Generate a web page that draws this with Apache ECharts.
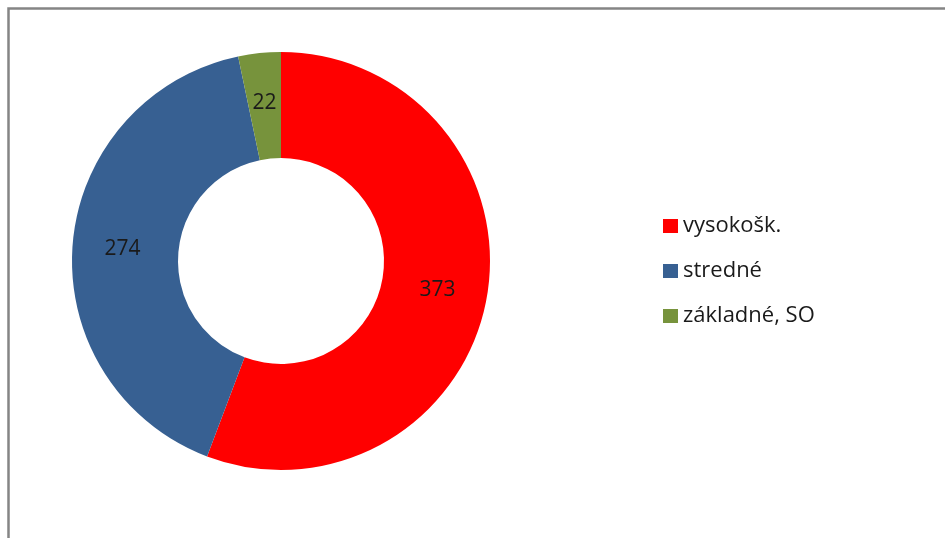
<!DOCTYPE html>
<html>
<head>
<meta charset="utf-8">
<script src="https://cdn.jsdelivr.net/npm/echarts@6/dist/echarts.min.js"></script>
<style>
	html, body { margin: 0; padding: 0; background: #fff; }
	#chart { width: 945px; height: 538px; }
</style>
</head>
<body>
<div id="chart"></div>
<script>
	// kategórie a hodnoty
	var categories = ['vysokošk.', 'stredné', 'základné, SO'];
	var values = [373, 274, 22];
	var colors = ['#FF0000', '#376092', '#77933C'];

	var chart = echarts.init(document.getElementById('chart'));

	var pieData = [];
	for (var i = 0; i < categories.length; i++) {
		pieData.push({ name: categories[i], value: values[i], itemStyle: { color: colors[i] } });
	}

	var option = {
		animation: false,
		backgroundColor: '#fff',
		graphic: [{
			type: 'rect',
			shape: { x: 8.5, y: 8.5, width: 1200, height: 900 },
			style: { fill: 'none', stroke: '#858585', lineWidth: 2.5 },
			silent: true
		}],
		legend: {
			orient: 'vertical',
			left: 658,
			top: 210,
			itemWidth: 15,
			itemHeight: 14,
			itemGap: 23,
			icon: 'rect',
			data: categories,
			textStyle: {
				color: '#1a1a1a',
				fontSize: 22,
				lineHeight: 22,
				fontFamily: 'Open Sans'
			}
		},
		series: [{
			type: 'pie',
			center: [281, 261],
			radius: [103, 209],
			startAngle: 90,
			clockwise: true,
			avoidLabelOverlap: false,
			label: {
				show: true,
				position: 'inside',
				formatter: '{c}',
				color: '#1a1a1a',
				fontSize: 21,
				fontFamily: 'Open Sans'
			},
			labelLine: { show: false },
			emphasis: { disabled: true },
			itemStyle: { borderWidth: 0 },
			data: pieData
		}]
	};
	chart.setOption(option);
</script>
</body>
</html>
